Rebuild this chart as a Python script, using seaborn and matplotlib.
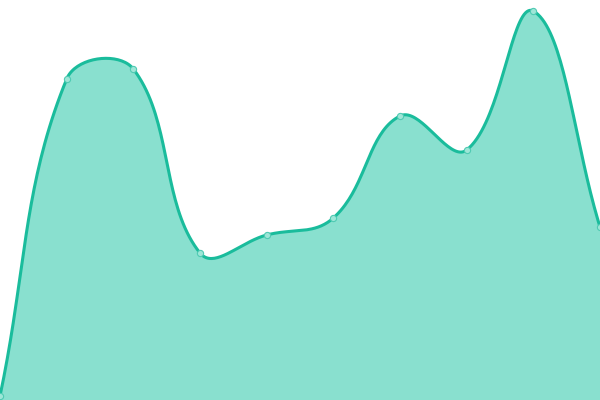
"""
Smooth area chart with point markers, no axes.
"""
import numpy as np
import pandas as pd
import matplotlib
matplotlib.use("Agg")
import matplotlib.pyplot as plt
import seaborn as sns

# Data
positions = list(range(10))
values = [4, 321, 331, 147, 165, 182, 284, 250, 389, 173]

LINE_COLOR = "#1abc9c"
FILL_COLOR = "#89e0cf"
MARKER_FILL = "#9ee6d7"
MARKER_EDGE = "#4fcab3"

WIDTH, HEIGHT = 600, 400
X_MAX, Y_MAX = 9, 400
TENSION = 0.4


def spline_px(px, py, tension=TENSION, steps=40):
    """Tension spline in pixel space (rendering only), control points capped to the area."""
    pts = np.column_stack([px, py]).astype(float)
    n = len(pts)
    prev_cp = np.zeros_like(pts)
    next_cp = np.zeros_like(pts)
    for i in range(n):
        p0 = pts[max(i - 1, 0)]
        p1 = pts[i]
        p2 = pts[min(i + 1, n - 1)]
        d01 = np.hypot(*(p1 - p0))
        d12 = np.hypot(*(p2 - p1))
        s01 = d01 / (d01 + d12) if d01 + d12 else 0
        s12 = d12 / (d01 + d12) if d01 + d12 else 0
        prev_cp[i] = p1 - tension * s01 * (p2 - p0)
        next_cp[i] = p1 + tension * s12 * (p2 - p0)
    for cp in (prev_cp, next_cp):
        cp[:, 0] = np.clip(cp[:, 0], 0, WIDTH)
        cp[:, 1] = np.clip(cp[:, 1], 0, HEIGHT)

    t = np.linspace(0, 1, steps)[1:, None]
    u = 1 - t
    out = [pts[0:1]]
    for i in range(n - 1):
        seg = (u ** 3 * pts[i] + 3 * u * u * t * next_cp[i]
               + 3 * u * t * t * prev_cp[i + 1] + t ** 3 * pts[i + 1])
        out.append(seg)
    return np.vstack(out)


df = pd.DataFrame({"x": positions, "y": values})
# to pixel space (y down), spline, back to data space
px = df["x"] * WIDTH / X_MAX
py = HEIGHT - df["y"] * HEIGHT / Y_MAX
curve = spline_px(px.to_numpy(), py.to_numpy())
smooth = pd.DataFrame({"x": curve[:, 0] * X_MAX / WIDTH,
                       "y": (HEIGHT - curve[:, 1]) * Y_MAX / HEIGHT})

sns.set_theme(style="white")
fig = plt.figure(figsize=(6, 4), dpi=100)
ax = fig.add_axes([0, 0, 1, 1])

ax.fill_between(smooth["x"], smooth["y"], 0, color=FILL_COLOR, linewidth=0)
sns.lineplot(data=smooth, x="x", y="y", ax=ax, color=LINE_COLOR,
             linewidth=2.2, sort=False, estimator=None)
sns.scatterplot(data=df, x="x", y="y", ax=ax, s=20, color=MARKER_FILL,
                edgecolor=MARKER_EDGE, linewidth=0.8, zorder=5, clip_on=False)

ax.set_xlim(0, X_MAX)
ax.set_ylim(0, Y_MAX)
ax.axis("off")

fig.savefig("out.png", dpi=100)
